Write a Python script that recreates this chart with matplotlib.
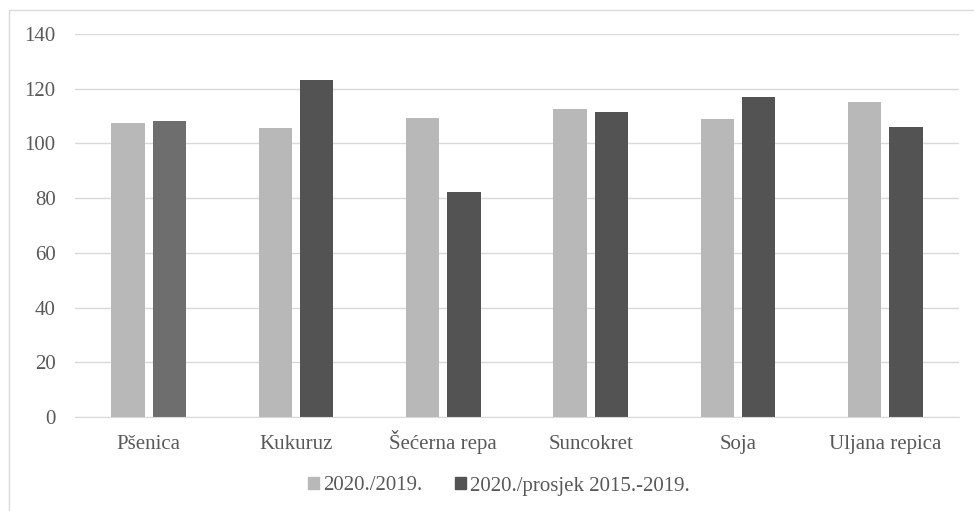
import matplotlib
matplotlib.use("Agg")
import matplotlib.pyplot as plt
import numpy as np
from matplotlib.patches import Rectangle

categories = ["Pšenica", "Kukuruz", "Šećerna repa", "Suncokret", "Soja", "Uljana repica"]
series_names = ["2020./2019.", "2020./prosjek 2015.-2019."]
vals_2019 = [107.5, 105.8, 109.2, 112.6, 108.9, 115.1]
vals_avg = [108.1, 123.1, 82.2, 111.4, 116.8, 105.9]
yticks = [0, 20, 40, 60, 80, 100, 120, 140]

light = "#b7b8b7"
dark = "#535353"
dark_first = "#6e6e6e"
txt = "#595959"

plt.rcParams['font.family'] = ['Liberation Serif', 'DejaVu Serif']

fig = plt.figure(figsize=(9.74, 5.11), dpi=100)
ax = fig.add_axes([75/974, 1-417/511, (959-75)/974, (417-34)/511])

x = np.arange(len(categories))
w = 0.225
off = 0.14
ax.bar(x - off, vals_2019, w, color=light, label=series_names[0], zorder=3)
dcols = [dark_first] + [dark] * (len(categories) - 1)
ax.bar(x + off, vals_avg, w, color=dcols, label=series_names[1], zorder=3)

ax.set_xlim(-0.5, len(categories) - 0.5)
ax.set_ylim(0, 140)
ax.set_yticks(yticks)
ax.set_xticks(x)
ax.set_xticklabels(categories)
ax.grid(axis='y', color='#d9d9d9', linewidth=1, zorder=0)
for s in ['top', 'right', 'left']:
    ax.spines[s].set_visible(False)
ax.spines['bottom'].set_color('#d9d9d9')
ax.spines['bottom'].set_zorder(4)
ax.tick_params(axis='both', length=0, colors=txt, labelsize=15)
ax.tick_params(axis='x', pad=23)
ax.tick_params(axis='y', pad=14)
for lbl in ax.get_xticklabels():
    lbl.set_va('baseline')

handles = [Rectangle((0, 0), 1, 1, color=light), Rectangle((0, 0), 1, 1, color=dark)]
fig.legend(handles, series_names, loc='center', bbox_to_anchor=(499/974, 1-486/511),
           ncol=2, frameon=False, fontsize=15, handlelength=0.5, handleheight=0.5,
           handletextpad=0.2, columnspacing=1.6, labelcolor=txt, borderpad=0)

fig.patches.append(Rectangle((9/974, -0.1), 1.1, 1 - 10/511 + 0.1, transform=fig.transFigure,
                             fill=False, edgecolor='#d9d9d9', linewidth=1))

fig.savefig("out.png", dpi=100)
